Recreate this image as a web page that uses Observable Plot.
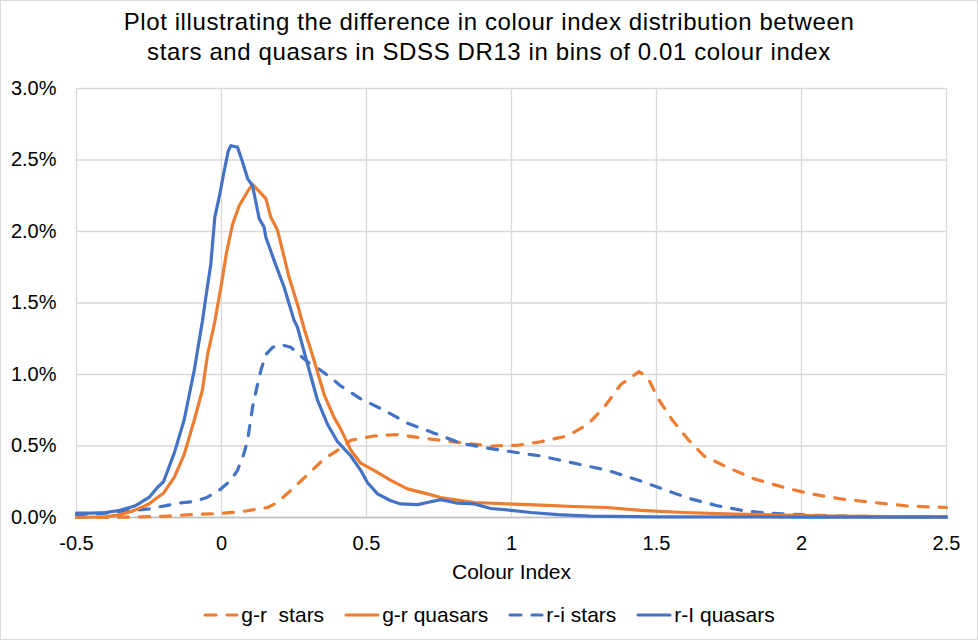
<!DOCTYPE html>
<html><head><meta charset="utf-8">
<script src="https://cdn.jsdelivr.net/npm/d3@7"></script>
<script src="https://cdn.jsdelivr.net/npm/@observablehq/plot@0.6"></script>
<style>
body{margin:0;background:#fff;font-family:"Liberation Sans",Arial,sans-serif;}
#wrap{width:976px;height:638px;border:1px solid #d9d9d9;overflow:hidden;background:#fff}
#title{text-align:center;font-size:24px;letter-spacing:0.6px;line-height:30px;padding-top:6px;height:60px;color:#000}
#legend{display:flex;justify-content:center;align-items:center;margin-top:13px;height:24px;font-size:21px;color:#000}
#legend .item{display:flex;align-items:center;margin:0 10px}
#legend svg{margin-right:2px}
</style>
</head><body>
<div id="wrap">
<div id="title">Plot illustrating the difference in colour index distribution between<br>stars and quasars in SDSS DR13 in bins of 0.01 colour index</div>
<div id="chart"></div>
<div id="legend"></div>
</div>
<script>
const seriesNames = ["g-r  stars", "g-r quasars", "r-i stars", "r-I quasars"];
const seriesColors = ["#ED7D31", "#ED7D31", "#4472C4", "#4472C4"];
const seriesDashed = [true, false, true, false];
const xTicks = [-0.5, 0, 0.5, 1, 1.5, 2, 2.5];
const xTickLabels = ["-0.5", "0", "0.5", "1", "1.5", "2", "2.5"];
const yTicks = [0, 0.5, 1, 1.5, 2, 2.5, 3];
const yTickLabels = ["0.0%", "0.5%", "1.0%", "1.5%", "2.0%", "2.5%", "3.0%"];
const xLabel = "Colour Index";

// g-r stars (percent)
const grStarsX = [-0.5,-0.35,-0.278,-0.2,-0.106,-0.008,0.067,0.159,0.193,0.239,0.297,0.354,0.40,0.446,0.526,0.607,0.676,0.756,0.837,0.929,1.021,1.101,1.193,1.262,1.319,1.377,1.44,1.469,1.509,1.555,1.607,1.664,1.745,1.837,1.94,2.032,2.135,2.25,2.366,2.5];
const grStarsY = [0.0,0.002,0.005,0.008,0.02,0.028,0.04,0.07,0.105,0.19,0.30,0.41,0.47,0.54,0.57,0.58,0.56,0.54,0.52,0.50,0.505,0.53,0.57,0.65,0.77,0.93,1.02,0.98,0.82,0.68,0.55,0.43,0.35,0.27,0.21,0.165,0.13,0.105,0.08,0.07];
// g-r quasars
const grQsoX = [-0.5,-0.4,-0.35,-0.3,-0.25,-0.221,-0.2,-0.163,-0.129,-0.094,-0.066,-0.048,-0.025,-0.002,0.018,0.038,0.061,0.09,0.107,0.13,0.153,0.17,0.193,0.216,0.233,0.262,0.285,0.319,0.354,0.388,0.411,0.446,0.48,0.526,0.584,0.641,0.71,0.756,0.871,0.986,1.101,1.216,1.331,1.446,1.48,1.595,1.768,1.94,2.11,2.3,2.5];
const grQsoY = [0.0,0.005,0.02,0.05,0.095,0.14,0.17,0.28,0.44,0.68,0.89,1.14,1.35,1.61,1.86,2.05,2.18,2.28,2.33,2.28,2.23,2.10,2.01,1.82,1.68,1.49,1.32,1.10,0.86,0.70,0.62,0.47,0.38,0.33,0.26,0.20,0.165,0.14,0.105,0.095,0.087,0.077,0.07,0.05,0.047,0.035,0.024,0.017,0.01,0.006,0.004];
// r-i stars
const riStarsX = [-0.5,-0.4,-0.3,-0.25,-0.2,-0.15,-0.1,-0.05,-0.008,0.032,0.055,0.078,0.09,0.107,0.122,0.136,0.153,0.176,0.204,0.239,0.273,0.308,0.342,0.388,0.411,0.48,0.561,0.641,0.733,0.825,0.917,1.0,1.101,1.216,1.331,1.446,1.538,1.618,1.71,1.802,1.883,2.0,2.11,2.3,2.5];
const riStarsY = [0.02,0.03,0.05,0.06,0.08,0.10,0.11,0.14,0.19,0.26,0.33,0.45,0.54,0.77,0.91,1.03,1.14,1.19,1.21,1.19,1.13,1.07,1.03,0.96,0.92,0.83,0.75,0.66,0.59,0.52,0.485,0.46,0.43,0.38,0.33,0.255,0.187,0.13,0.082,0.047,0.03,0.02,0.01,0.006,0.004];
// r-I quasars
const riQsoX = [-0.5,-0.45,-0.4,-0.35,-0.3,-0.278,-0.25,-0.221,-0.2,-0.163,-0.129,-0.094,-0.066,-0.054,-0.037,-0.023,-0.008,0.007,0.023,0.032,0.055,0.072,0.09,0.107,0.13,0.147,0.153,0.181,0.216,0.25,0.262,0.297,0.331,0.366,0.40,0.446,0.48,0.503,0.538,0.584,0.618,0.676,0.71,0.756,0.814,0.871,0.929,1.0,1.067,1.159,1.27,1.5,2.0,2.5];
const riQsoY = [0.03,0.03,0.035,0.05,0.08,0.105,0.14,0.21,0.25,0.45,0.68,1.03,1.37,1.54,1.77,2.10,2.24,2.40,2.56,2.60,2.59,2.49,2.37,2.32,2.09,2.03,1.96,1.80,1.61,1.38,1.33,1.07,0.82,0.65,0.53,0.43,0.33,0.245,0.165,0.117,0.095,0.09,0.105,0.125,0.10,0.095,0.063,0.05,0.035,0.02,0.01,0.005,0.003,0.002];

const allX = [grStarsX, grQsoX, riStarsX, riQsoX];
const allY = [grStarsY, grQsoY, riStarsY, riQsoY];

const lineMarks = [];
[0, 2, 1, 3].forEach(i => {
  const rows = allX[i].map((x, j) => ({x, y: allY[i][j]}));
  lineMarks.push(Plot.line(rows, {
    x: "x", y: "y",
    stroke: seriesColors[i],
    strokeWidth: 3.2,
    strokeDasharray: seriesDashed[i] ? "10,11" : null,
    strokeLinecap: "round",
    strokeLinejoin: "round"
  }));
});

const chart = Plot.plot({
  width: 976,
  height: 523,
  marginLeft: 75,
  marginRight: 31,
  marginTop: 21,
  marginBottom: 73,
  style: {fontFamily: '"Liberation Sans", Arial, sans-serif', fontSize: "20px", color: "#000", background: "#fff"},
  x: {domain: [-0.5, 2.5]},
  y: {domain: [0, 3]},
  marks: [
    Plot.gridX(xTicks, {stroke: "#d9d9d9", strokeOpacity: 1, strokeWidth: 1.3}),
    Plot.gridY(yTicks, {stroke: "#d9d9d9", strokeOpacity: 1, strokeWidth: 1.3}),
    Plot.ruleY([0], {stroke: "#bfbfbf", strokeWidth: 1.6}),
    Plot.axisX({ticks: xTicks, tickFormat: d => xTickLabels[xTicks.indexOf(d)], tickSize: 0, tickPadding: 18, fontSize: 20, label: null}),
    Plot.axisY({ticks: yTicks, tickFormat: d => yTickLabels[yTicks.indexOf(d)], tickSize: 0, tickPadding: 20, fontSize: 20, label: null}),
    Plot.text([xLabel], {frameAnchor: "bottom", dy: 61, fontSize: 21, fill: "#000"}),
    ...lineMarks
  ]
});
document.getElementById("chart").appendChild(chart);

const legend = document.getElementById("legend");
seriesNames.forEach((name, i) => {
  const item = document.createElement("div");
  item.className = "item";
  const dash = seriesDashed[i] ? 'stroke-dasharray="11,11"' : '';
  item.innerHTML = `<svg width="36" height="10"><line x1="2" y1="5" x2="34" y2="5" stroke="${seriesColors[i]}" stroke-width="3.2" stroke-linecap="round" ${dash}/></svg><span style="white-space:pre">${name}</span>`;
  legend.appendChild(item);
});
</script>
</body></html>
